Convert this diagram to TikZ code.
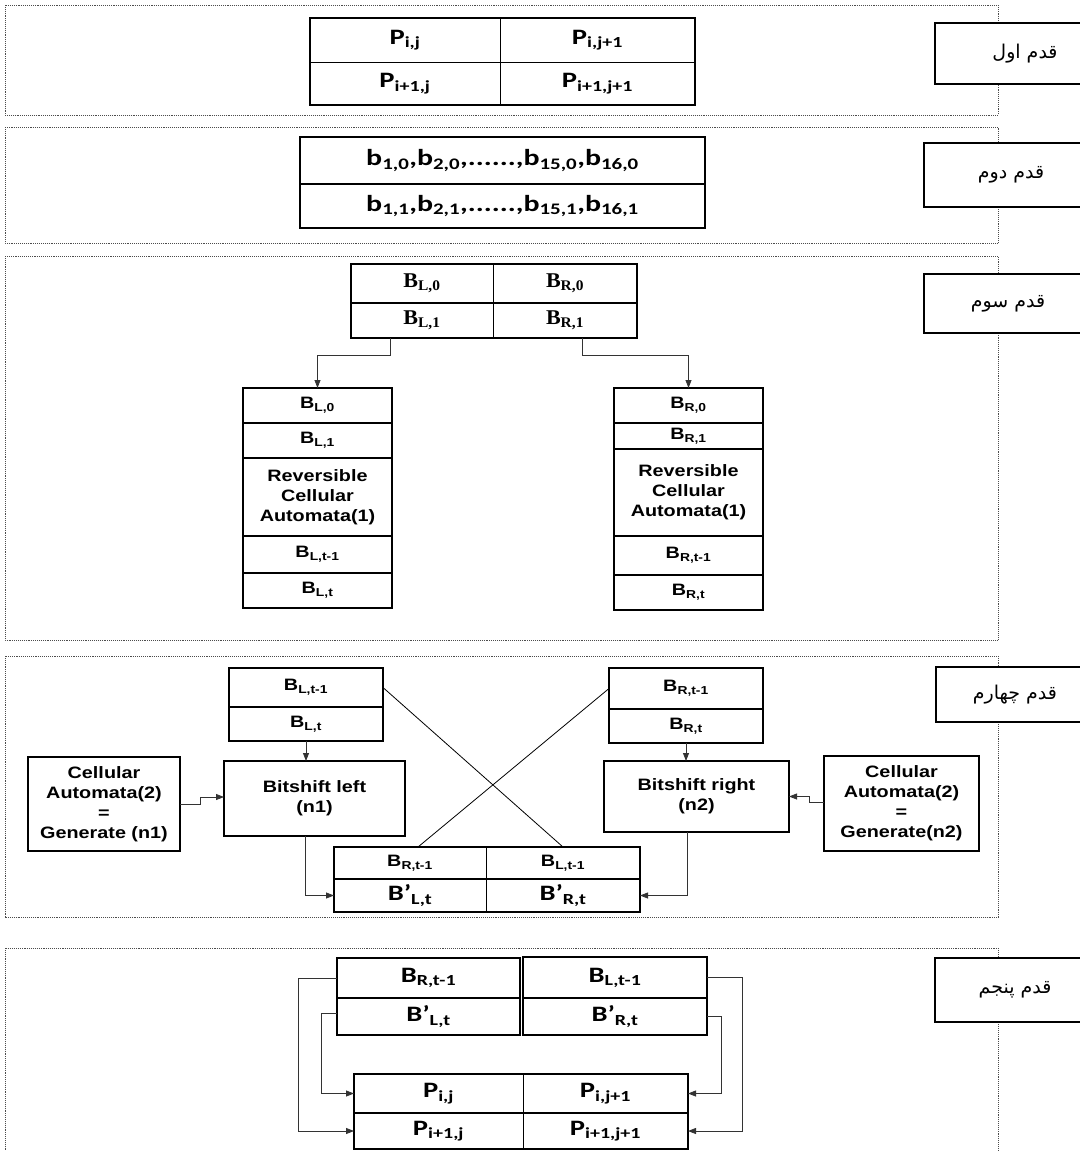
\documentclass[tikz,border=0pt]{standalone}
\usepackage{fontspec}
\usetikzlibrary{arrows.meta}
\TeXXeTstate=1
\newfontfamily\fCal[FakeStretch=1.3]{Carlito}
\newfontfamily\fAr[FakeStretch=1.2]{Liberation Sans}
\newfontfamily\fTm[FakeStretch=1.05]{Liberation Serif}
\newfontfamily\fFa[Script=Arabic]{DejaVu Sans}
\tikzset{
  frame/.style={draw=black!70, densely dotted, line width=0.9pt},
  cell/.style={draw, line width=0.8pt, inner sep=0pt, outer sep=0pt, align=center},
  tbox/.style={cell, line width=1.6pt},
  outer/.style={draw, line width=1.8pt},
  lbl/.style={draw, fill=white, line width=1.6pt, inner sep=0pt, font=\fFa\fontsize{19}{23}\selectfont},
  pfont/.style={font=\fCal\bfseries\fontsize{22}{26}\selectfont},
  bfont/.style={font=\fCal\bfseries\fontsize{23}{27}\selectfont},
  afont/.style={font=\fAr\bfseries\fontsize{16.5}{20}\selectfont},
  tfont/.style={font=\fTm\bfseries\fontsize{21}{24}\selectfont},
  wire/.style={line width=0.8pt, draw=black!80},
  arr/.style={wire, -{Triangle[length=8pt,width=6pt]}}
}
\begin{document}
\begin{tikzpicture}[x=1pt,y=-1pt]
\fill[white] (0,0) rectangle (1079,1151);
\useasboundingbox (0,0) rectangle (1079,1151);

% frames
\draw[frame] (5,5) rectangle (998,115);
\draw[frame] (5,127) rectangle (998,243);
\draw[frame] (5,256) rectangle (998,640);
\draw[frame] (5,656) rectangle (998,917);
\draw[frame] (5,948) rectangle (998,1175);

% step labels
\node[lbl, minimum width=180pt, minimum height=61pt] (s1) at (1025,53.5) {\beginR قدم اول\endR};
\node[lbl, minimum width=174pt, minimum height=64pt] (s2) at (1011,175) {\beginR قدم دوم\endR};
\node[lbl, minimum width=168pt, minimum height=59pt] (s3) at (1008,303.5) {\beginR قدم سوم\endR};
\node[lbl, minimum width=158pt, minimum height=55pt] (s4) at (1015,694.5) {\beginR قدم چهارم\endR};
\node[lbl, minimum width=160pt, minimum height=64pt] (s5) at (1015,990) {\beginR قدم پنجم\endR};

% ---------- step 1
\node[cell, pfont, minimum width=190pt, minimum height=44pt] (p11) at (405,40) {P\textsubscript{i,j}};
\node[cell, pfont, minimum width=195pt, minimum height=44pt] (p12) at (597.5,40) {P\textsubscript{i,j+1}};
\node[cell, pfont, minimum width=190pt, minimum height=43pt] (p21) at (405,83.5) {P\textsubscript{i+1,j}};
\node[cell, pfont, minimum width=195pt, minimum height=43pt] (p22) at (597.5,83.5) {P\textsubscript{i+1,j+1}};
\draw[outer] (p11.north west) rectangle (p22.south east);

% ---------- step 2
\node[cell, bfont, minimum width=405pt, minimum height=47pt] (b1) at (502.5,160.5) {b\textsubscript{1,0},b\textsubscript{2,0},......,b\textsubscript{15,0},b\textsubscript{16,0}};
\node[cell, bfont, minimum width=405pt, minimum height=44pt] (b2) at (502.5,206) {b\textsubscript{1,1},b\textsubscript{2,1},......,b\textsubscript{15,1},b\textsubscript{16,1}};
\draw[outer] (b1.north west) rectangle (b2.south east);
\draw[line width=1.6pt] (b1.south west) -- (b1.south east);

% ---------- step 3
\node[cell, tfont, minimum width=142pt, minimum height=39pt] (tl0) at (422,283.5) {B\textsubscript{L,0}};
\node[cell, tfont, minimum width=144pt, minimum height=39pt] (tr0) at (565,283.5) {B\textsubscript{R,0}};
\node[cell, tfont, minimum width=142pt, minimum height=35pt] (tl1) at (422,320.5) {B\textsubscript{L,1}};
\node[cell, tfont, minimum width=144pt, minimum height=35pt] (tr1) at (565,320.5) {B\textsubscript{R,1}};
\draw[outer] (tl0.north west) rectangle (tr1.south east);
\draw[line width=1.6pt] (tl0.south west) -- (tr0.south east);

\node[tbox, afont, minimum width=149pt, minimum height=35pt] (lc1) at (317.5,405.5) {B\textsubscript{L,0}};
\node[tbox, afont, minimum width=149pt, minimum height=35pt] (lc2) at (317.5,440.5) {B\textsubscript{L,1}};
\node[tbox, afont, minimum width=149pt, minimum height=78pt] (lc3) at (317.5,497) {Reversible\\Cellular\\Automata(1)};
\node[tbox, afont, minimum width=149pt, minimum height=37pt] (lc4) at (317.5,554.5) {B\textsubscript{L,t-1}};
\node[tbox, afont, minimum width=149pt, minimum height=35pt] (lc5) at (317.5,590.5) {B\textsubscript{L,t}};

\node[tbox, afont, minimum width=149pt, minimum height=35pt] (rc1) at (688.5,405.5) {B\textsubscript{R,0}};
\node[tbox, afont, minimum width=149pt, minimum height=26pt] (rc2) at (688.5,436) {B\textsubscript{R,1}};
\node[tbox, afont, minimum width=149pt, minimum height=87pt] (rc3) at (688.5,492.5) {Reversible\\Cellular\\Automata(1)};
\node[tbox, afont, minimum width=149pt, minimum height=39pt] (rc4) at (688.5,555.5) {B\textsubscript{R,t-1}};
\node[tbox, afont, minimum width=149pt, minimum height=35pt] (rc5) at (688.5,592.5) {B\textsubscript{R,t}};

\draw[arr] ([xshift=-32pt]tl1.south) -- ++(0,17) -| (lc1.north);
\draw[arr] ([xshift=17pt]tr1.south) -- ++(0,17) -| (rc1.north);

% ---------- step 4
\node[tbox, afont, minimum width=154pt, minimum height=39pt] (ul1) at (306,687.5) {B\textsubscript{L,t-1}};
\node[tbox, afont, minimum width=154pt, minimum height=34pt] (ul2) at (306,724) {B\textsubscript{L,t}};
\node[tbox, afont, minimum width=154pt, minimum height=41pt] (ur1) at (686,688.5) {B\textsubscript{R,t-1}};
\node[tbox, afont, minimum width=154pt, minimum height=34pt] (ur2) at (686,726) {B\textsubscript{R,t}};

\node[tbox, afont, minimum width=181pt, minimum height=75pt] (bsl) at (314.5,798.5) {Bitshift left\\(n1)};
\node[tbox, afont, minimum width=185pt, minimum height=71pt] (bsr) at (696.5,796.5) {Bitshift right\\(n2)};
\node[tbox, afont, minimum width=152pt, minimum height=94pt] (cal) at (104,804) {Cellular\\Automata(2)\\=\\Generate (n1)};
\node[tbox, afont, minimum width=155pt, minimum height=95pt] (car) at (901.5,803.5) {Cellular\\Automata(2)\\=\\Generate(n2)};

\node[cell, afont, minimum width=152pt, minimum height=32pt] (m11) at (410,863) {B\textsubscript{R,t-1}};
\node[cell, afont, minimum width=154pt, minimum height=32pt] (m12) at (563,863) {B\textsubscript{L,t-1}};
\node[cell, pfont, minimum width=152pt, minimum height=33pt] (m21) at (410,895.5) {B’\textsubscript{L,t}};
\node[cell, pfont, minimum width=154pt, minimum height=33pt] (m22) at (563,895.5) {B’\textsubscript{R,t}};
\draw[outer] (m11.north west) rectangle (m22.south east);
\draw[line width=1.6pt] (m11.south west) -- (m12.south east);

\draw[arr] (ul2.south) -- (ul2.south |- bsl.north);
\draw[arr] (ur2.south) -- (ur2.south |- bsr.north);
\draw[arr] (cal.east) -- ++(20,0) |- ([yshift=1.5pt]bsl.west);
\draw[arr] ([yshift=1.5pt]car.west) -- ++(-15,0) |- (bsr.east);
\draw[arr] ([xshift=-9.5pt]bsl.south) |- (m21.west);
\draw[arr] ([xshift=-9.5pt]bsr.south) |- (m22.east);
\draw[wire, draw=black] (ul1.east) -- (m12.north);
\draw[wire, draw=black] (ur1.west) -- ([xshift=8pt]m11.north);

% ---------- step 5
\node[tbox, pfont, minimum width=183pt, minimum height=40pt] (v1) at (428.5,978) {B\textsubscript{R,t-1}};
\node[tbox, pfont, minimum width=183pt, minimum height=37pt] (v2) at (428.5,1016.5) {B’\textsubscript{L,t}};
\node[tbox, pfont, minimum width=184pt, minimum height=41pt] (w1) at (615,977.5) {B\textsubscript{L,t-1}};
\node[tbox, pfont, minimum width=184pt, minimum height=37pt] (w2) at (615,1016.5) {B’\textsubscript{R,t}};

\node[cell, pfont, minimum width=169pt, minimum height=39pt] (q11) at (438.5,1093.5) {P\textsubscript{i,j}};
\node[cell, pfont, minimum width=165pt, minimum height=39pt] (q12) at (605.5,1093.5) {P\textsubscript{i,j+1}};
\node[cell, pfont, minimum width=169pt, minimum height=36pt] (q21) at (438.5,1131) {P\textsubscript{i+1,j}};
\node[cell, pfont, minimum width=165pt, minimum height=36pt] (q22) at (605.5,1131) {P\textsubscript{i+1,j+1}};
\draw[outer] (q11.north west) rectangle (q22.south east);
\draw[line width=1.4pt] (q11.south west) -- (q12.south east);

\draw[arr] (v1.west) -- ++(-39,0) |- (q21.west);
\draw[arr] ([yshift=3pt]v2.west) -- ++(-16,0) |- (q11.west);
\draw[arr] (w1.east) -- ++(35,0) |- (q22.east);
\draw[arr] (w2.east) -- ++(14,0) |- (q12.east);
\end{tikzpicture}
\end{document}
